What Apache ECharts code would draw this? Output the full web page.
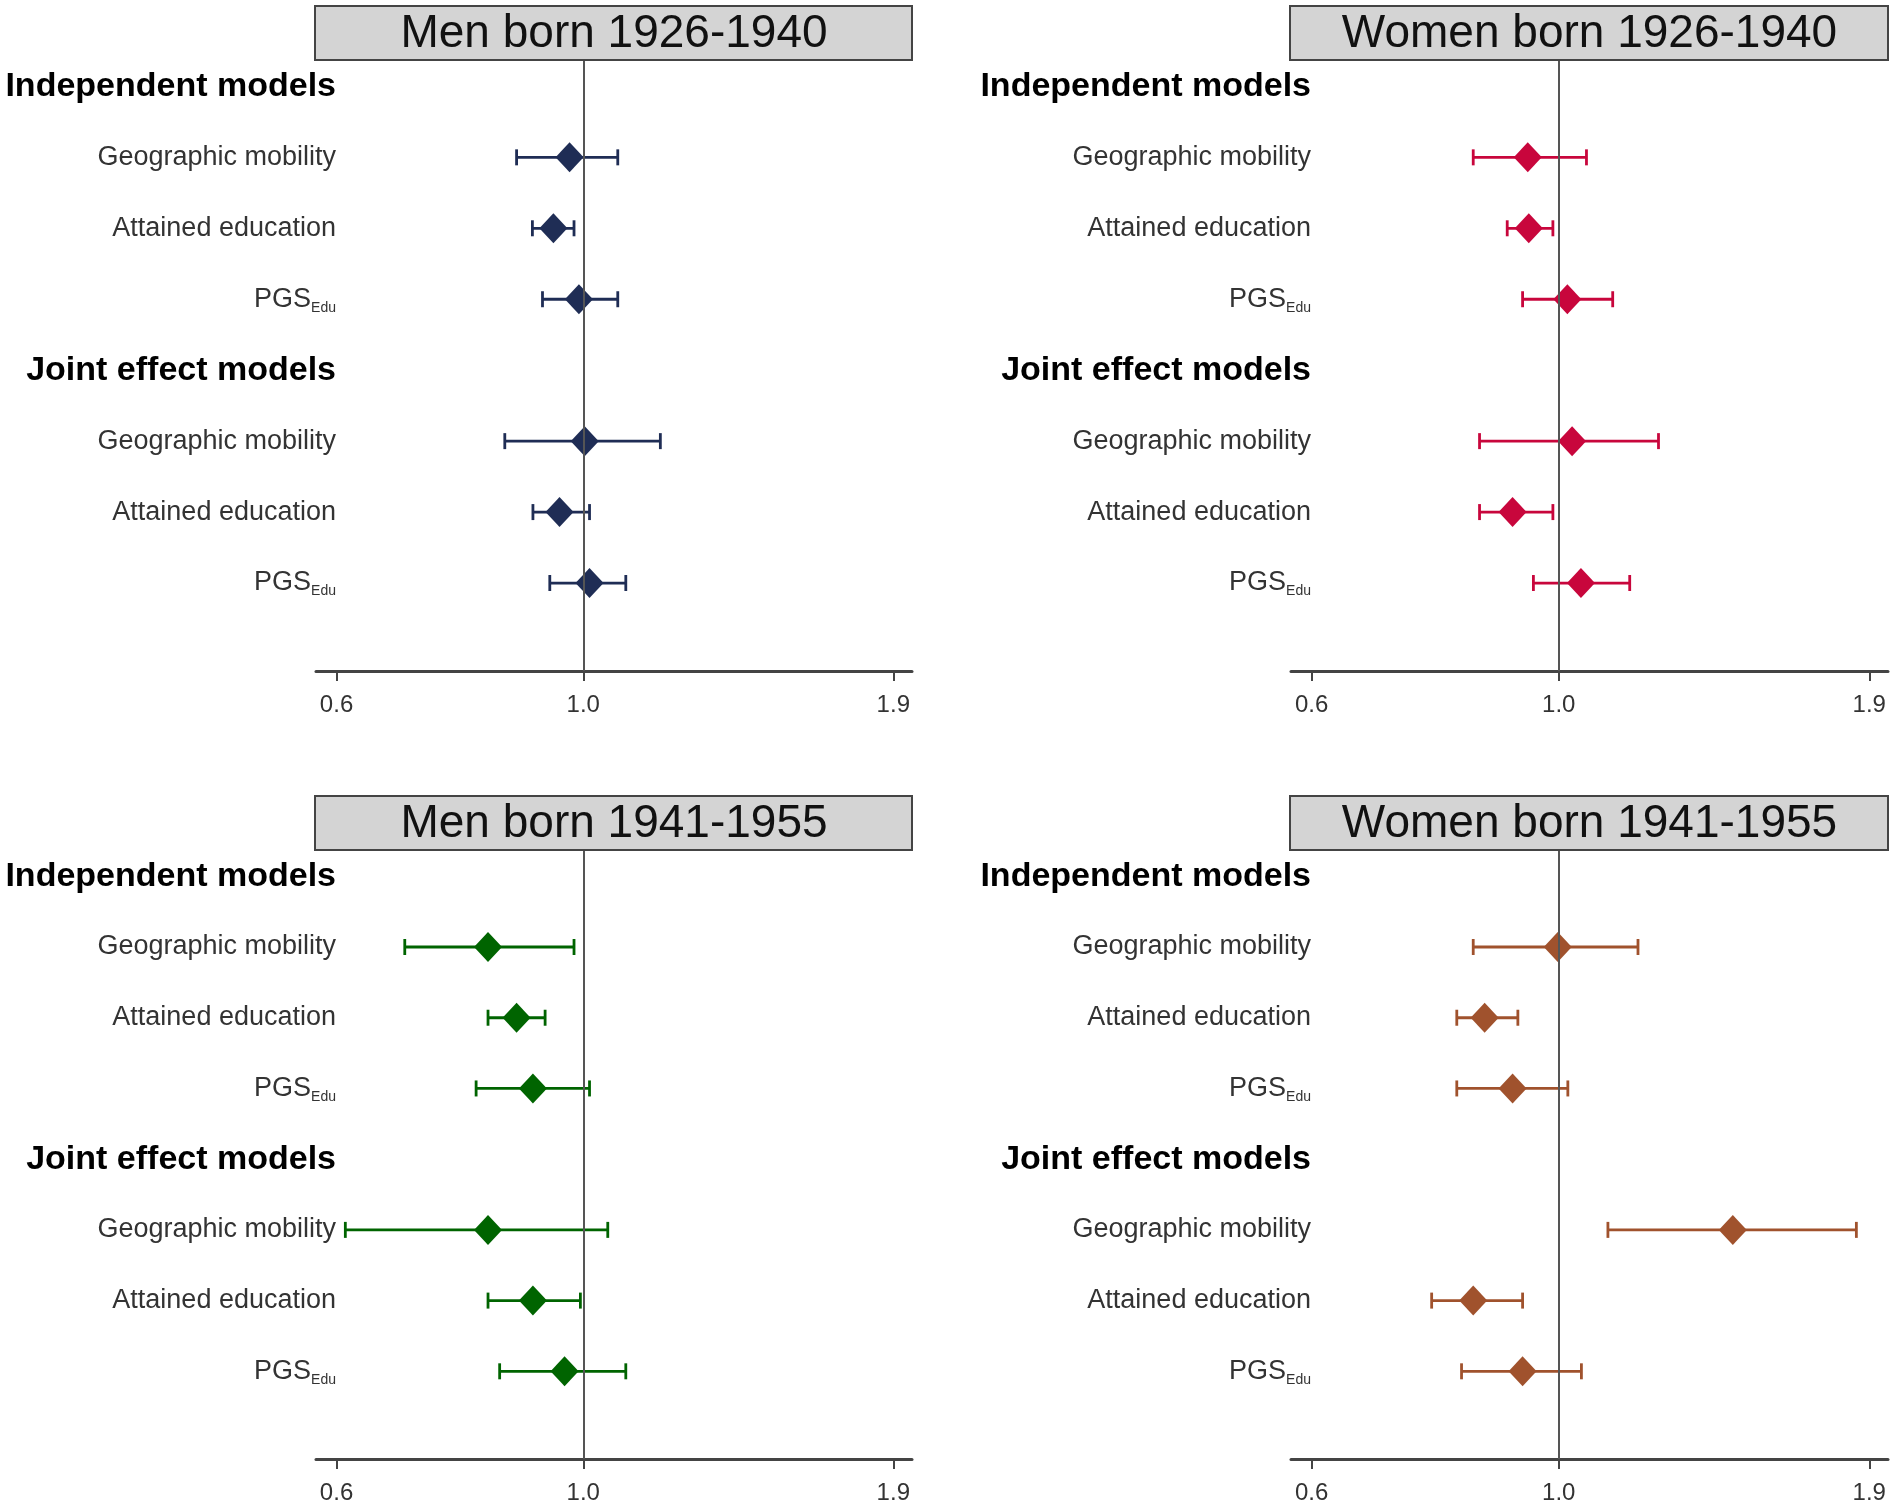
<!DOCTYPE html>
<html>
<head>
<meta charset="utf-8">
<script src="https://cdn.jsdelivr.net/npm/echarts@6.0.0/dist/echarts.min.js"></script>
<style>
  html, body { margin: 0; padding: 0; background: #fff; }
  #main { width: 1895px; height: 1508px; }
</style>
</head>
<body>
<div id="main"></div>
<script>
// panel titles and row labels
var panelTitles = ['Men born 1926-1940', 'Women born 1926-1940', 'Men born 1941-1955', 'Women born 1941-1955'];
var rowLabels = ['Independent models', 'Geographic mobility', 'Attained education', 'PGS_Edu',
                 'Joint effect models', 'Geographic mobility', 'Attained education', 'PGS_Edu'];
var headerRows = [0, 4];
var estimateRows = [1, 2, 3, 5, 6, 7];
var tickValues = [0.6, 1.0, 1.9];

// odds ratios and 95% CI, order: indep geo, edu, pgs, joint geo, edu, pgs
var menOldOR = [0.972, 0.940, 0.991, 1.003, 0.952, 1.013];
var menOldLo = [0.871, 0.900, 0.919, 0.850, 0.901, 0.933];
var menOldHi = [1.074, 0.981, 1.074, 1.173, 1.013, 1.092];

var womenOldOR = [0.938, 0.940, 1.018, 1.028, 0.909, 1.047];
var womenOldLo = [0.838, 0.899, 0.928, 0.849, 0.849, 0.949];
var womenOldHi = [1.059, 0.988, 1.118, 1.229, 0.988, 1.158];

var menYoungOR = [0.821, 0.871, 0.901, 0.821, 0.901, 0.962];
var menYoungLo = [0.691, 0.821, 0.801, 0.611, 0.821, 0.841];
var menYoungHi = [0.981, 0.924, 1.013, 1.052, 0.994, 1.092];

var womenYoungOR = [0.998, 0.858, 0.909, 1.433, 0.838, 0.928];
var womenYoungLo = [0.838, 0.810, 0.810, 1.107, 0.769, 0.818];
var womenYoungHi = [1.178, 0.919, 1.019, 1.850, 0.928, 1.048];

var panelData = [
  { or: menOldOR, lo: menOldLo, hi: menOldHi, color: '#1f2d55' },
  { or: womenOldOR, lo: womenOldLo, hi: womenOldHi, color: '#c8063c' },
  { or: menYoungOR, lo: menYoungLo, hi: menYoungHi, color: '#006400' },
  { or: womenYoungOR, lo: womenYoungLo, hi: womenYoungHi, color: '#a0522d' }
];

var grids = [
  { left: 316, top: 60, width: 596, height: 611 },
  { left: 1291, top: 60, width: 597, height: 611 },
  { left: 316, top: 850, width: 596, height: 609 },
  { left: 1291, top: 850, width: 597, height: 609 }
];
var boxH = 54;
var font = '"Liberation Sans", Arial, sans-serif';

var myChart = echarts.init(document.getElementById('main'));

var xAxes = [], yAxes = [], series = [], graphics = [];

grids.forEach(function (g, i) {
  g.outerBoundsMode = 'none';

  xAxes.push({
    gridIndex: i,
    type: 'value',
    position: 'bottom',
    min: Math.log(0.575),
    max: Math.log(1.975),
    axisLine: { show: true, onZero: false, lineStyle: { color: '#444', width: 3 } },
    axisTick: {
      show: true, length: 10, lineStyle: { color: '#444', width: 2 },
      customValues: tickValues.map(Math.log)
    },
    axisLabel: {
      margin: 22, fontSize: 24, color: '#333', fontFamily: font,
      customValues: tickValues.map(Math.log),
      formatter: function (v) { return Math.exp(v).toFixed(1); }
    },
    splitLine: { show: false }
  });

  yAxes.push({
    gridIndex: i,
    type: 'value',
    inverse: true,
    min: -0.372,
    max: 8.24,
    axisLine: { show: false, onZero: false },
    axisTick: { show: false },
    splitLine: { show: false },
    axisLabel: {
      margin: -20,
      customValues: [0, 1, 2, 3, 4, 5, 6, 7],
      formatter: function (v) {
        var lab = rowLabels[Math.round(v)];
        if (headerRows.indexOf(Math.round(v)) >= 0) return '{h|' + lab + '}';
        if (lab.indexOf('_') >= 0) {
          var parts = lab.split('_');
          return '{n|' + parts[0] + '}{s|' + parts[1] + '}';
        }
        return '{n|' + lab + '}';
      },
      rich: {
        h: { fontSize: 34, fontWeight: 'bold', color: '#000', fontFamily: font },
        n: { fontSize: 27, color: '#333', fontFamily: font, lineHeight: 31 },
        s: { fontSize: 14, color: '#333', fontFamily: font, lineHeight: 14, verticalAlign: 'bottom' }
      }
    }
  });

  var d = panelData[i];

  // reference line at OR = 1
  series.push({
    type: 'scatter',
    xAxisIndex: i, yAxisIndex: i,
    data: [],
    z: 1,
    silent: true,
    markLine: {
      symbol: 'none', silent: true, animation: false,
      label: { show: false },
      lineStyle: { color: '#555', width: 2, type: 'solid' },
      data: [{ xAxis: 0 }]
    }
  });

  // confidence intervals
  series.push({
    type: 'custom',
    xAxisIndex: i, yAxisIndex: i,
    z: 2,
    data: estimateRows.map(function (r, k) {
      return [r, Math.log(d.lo[k]), Math.log(d.hi[k])];
    }),
    encode: { y: 0, x: [1, 2] },
    renderItem: function (params, api) {
      var row = api.value(0);
      var p1 = api.coord([api.value(1), row]);
      var p2 = api.coord([api.value(2), row]);
      var cap = 8;
      var st = { stroke: d.color, lineWidth: 2.8 };
      return {
        type: 'group',
        children: [
          { type: 'line', shape: { x1: p1[0], y1: p1[1], x2: p2[0], y2: p2[1] }, style: st },
          { type: 'line', shape: { x1: p1[0], y1: p1[1] - cap, x2: p1[0], y2: p1[1] + cap }, style: st },
          { type: 'line', shape: { x1: p2[0], y1: p2[1] - cap, x2: p2[0], y2: p2[1] + cap }, style: st }
        ]
      };
    }
  });

  // point estimates
  series.push({
    type: 'scatter',
    xAxisIndex: i, yAxisIndex: i,
    z: 3,
    symbol: 'diamond',
    symbolSize: [28, 30],
    itemStyle: { color: d.color, opacity: 1 },
    data: estimateRows.map(function (r, k) { return [Math.log(d.or[k]), r]; })
  });

  // title box
  graphics.push({
    type: 'rect',
    shape: { x: g.left - 1, y: g.top - boxH, width: g.width + 1, height: boxH },
    style: { fill: '#d4d4d4', stroke: '#444', lineWidth: 2 },
    z: 10
  });
  graphics.push({
    type: 'text',
    x: g.left + g.width / 2,
    y: g.top - boxH / 2 + 1,
    style: {
      text: panelTitles[i],
      font: '46px ' + font,
      fill: '#111',
      textAlign: 'center', textVerticalAlign: 'middle',
      align: 'center', verticalAlign: 'middle'
    },
    z: 11
  });
});

var option = {
  animation: false,
  backgroundColor: '#fff',
  grid: grids,
  xAxis: xAxes,
  yAxis: yAxes,
  series: series,
  graphic: graphics
};

myChart.setOption(option);
</script>
</body>
</html>
